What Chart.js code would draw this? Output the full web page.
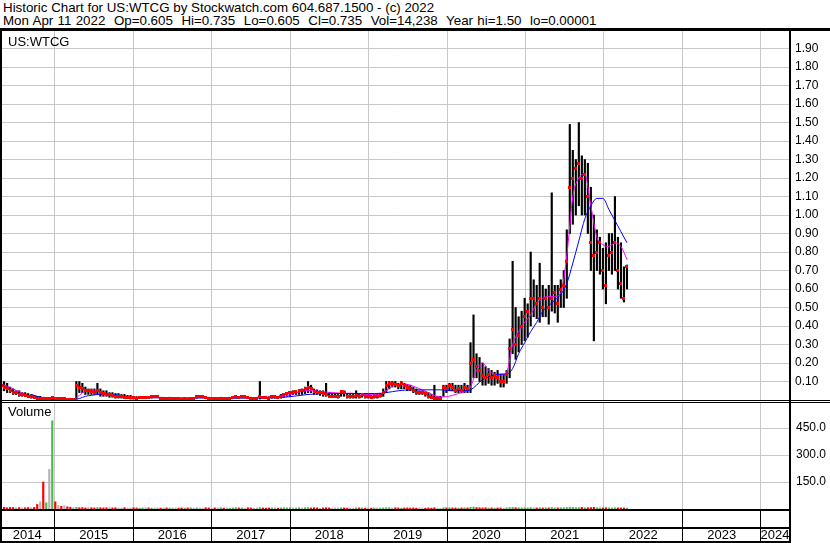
<!DOCTYPE html>
<html><head><meta charset="utf-8">
<script src="https://cdn.jsdelivr.net/npm/chart.js@4.4.1/dist/chart.umd.min.js"></script>
<style>
html,body{margin:0;padding:0;background:#fff;}
body{width:830px;height:543px;overflow:hidden;position:relative;font-family:"Liberation Sans",Arial,sans-serif;color:#000;}
.hdr{position:absolute;left:3px;font-size:13.33px;line-height:15px;white-space:pre;}
.lbl{position:absolute;font-size:13px;line-height:15px;white-space:pre;}
.ln{position:absolute;background:#000;}
canvas{position:absolute;left:0;}
</style></head><body>
<div class="hdr" style="top:0px">Historic Chart for US:WTCG by Stockwatch.com 604.687.1500 - (c) 2022</div>
<div class="hdr" style="top:13px;word-spacing:0.6px">Mon Apr 11 2022  Op=0.605  Hi=0.735  Lo=0.605  Cl=0.735  Vol=14,238  Year hi=1.50  lo=0.00001</div>
<canvas id="pc" width="830" height="369" style="top:31px"></canvas>
<canvas id="vc" width="830" height="140" style="top:403px"></canvas>
<div class="lbl" style="left:8px;top:34px">US:WTCG</div>
<div class="lbl" style="left:8px;top:404px">Volume</div>
<div class="ln" style="left:0;top:28px;width:830px;height:3px"></div>
<div class="ln" style="left:0;top:31px;width:2px;height:512px"></div>
<div class="ln" style="left:789px;top:31px;width:2px;height:512px"></div>
<div class="ln" style="left:0;top:400px;width:830px;height:1px"></div>
<div class="ln" style="left:0;top:402px;width:830px;height:1px"></div>
<div class="ln" style="left:0;top:509px;width:791px;height:2px"></div>
<div class="ln" style="left:0;top:527px;width:791px;height:2px"></div>
<div class="ln" style="left:0;top:541px;width:791px;height:2px"></div>
<script>
// ---- data ----
const barStart = 2014.32;          // first bar, decimal year
const barStepDays = 14;            // one bar every two weeks
const yearLines = [2015,2016,2017,2018,2019,2020,2021,2022,2023,2024];
const yearLabels = ['2014','2015','2016','2017','2018','2019','2020','2021','2022','2023','2024'];
const priceTicks = [0.1,0.2,0.3,0.4,0.5,0.6,0.7,0.8,0.9,1.0,1.1,1.2,1.3,1.4,1.5,1.6,1.7,1.8,1.9];
const volTicks = [150,300,450];

const highs = [
.10,.10,.09,.07,.06,.05,.05,.04,.04,.035,
.03,.025,.02,.02,.015,.012,.012,.015,.012,.01,
.01,.008,.008,.007,.007,.10,.10,.09,.07,.06,
.06,.06,.09,.06,.05,.05,.04,.04,.035,.035,
.03,.03,.025,.025,.02,.018,.02,.02,.02,.02,
.025,.025,.024,.015,.015,.012,.015,.012,.014,.01,
.01,.01,.01,.012,.012,.02,.022,.022,.02,.015,
.014,.012,.012,.015,.012,.012,.015,.015,.02,.02,
.022,.022,.02,.015,.014,.014,.10,.02,.02,.018,
.025,.025,.02,.03,.035,.04,.045,.05,.05,.055,
.06,.07,.10,.08,.06,.055,.05,.05,.09,.04,
.035,.035,.03,.05,.05,.03,.03,.03,.05,.03,
.035,.03,.03,.025,.03,.03,.035,.06,.10,.10,
.10,.10,.09,.10,.09,.085,.08,.07,.06,.05,
.05,.045,.04,.03,.08,.02,.02,.08,.08,.09,
.09,.08,.08,.08,.09,.08,.31,.46,.25,.23,
.20,.18,.17,.16,.15,.16,.14,.14,.16,.33,
.75,.50,.45,.48,.55,.52,.80,.65,.62,.74,
.62,.60,.62,1.12,.62,.62,.65,.70,.92,1.49,
1.35,1.30,1.50,1.32,1.30,1.28,1.15,1.00,.92,.88,
.82,.85,.90,.90,1.10,.88,.85,.72,.73];

const lows = [
.05,.05,.04,.04,.03,.03,.02,.02,.02,.015,
.01,.01,.005,.005,.005,.004,.004,.005,.003,.003,
.002,.002,.002,.001,.001,.005,.04,.04,.03,.03,
.03,.03,.03,.02,.02,.02,.015,.015,.01,.01,
.01,.01,.01,.005,.005,.005,.008,.008,.01,.008,
.01,.012,.012,.005,.005,.004,.005,.004,.006,.003,
.002,.002,.002,.004,.004,.01,.012,.012,.01,.005,
.005,.004,.004,.005,.004,.004,.005,.008,.01,.01,
.012,.012,.01,.006,.006,.006,.005,.008,.008,.006,
.01,.01,.008,.01,.015,.02,.02,.03,.03,.03,
.03,.035,.04,.04,.03,.03,.025,.02,.02,.015,
.015,.015,.01,.02,.02,.01,.01,.01,.01,.01,
.015,.01,.01,.01,.01,.01,.015,.02,.04,.06,
.07,.07,.06,.06,.06,.05,.05,.04,.03,.03,
.03,.02,.01,.01,.005,.005,.005,.02,.04,.05,
.05,.04,.04,.04,.04,.04,.04,.12,.12,.10,
.08,.08,.09,.08,.08,.09,.07,.07,.09,.12,
.25,.22,.26,.30,.32,.34,.40,.45,.44,.42,
.45,.45,.41,.48,.47,.42,.50,.50,.55,.90,
.95,1.00,1.05,1.00,1.00,.90,.70,.32,.70,.68,
.60,.52,.70,.68,.70,.60,.55,.53,.60];

const closes = [
.08,.07,.06,.05,.04,.04,.03,.03,.025,.02,
.02,.015,.01,.01,.008,.009,.009,.012,.008,.008,
.006,.006,.005,.004,.004,.08,.07,.06,.05,.05,
.045,.04,.05,.04,.035,.03,.03,.025,.02,.02,
.02,.015,.015,.015,.012,.01,.012,.015,.015,.012,
.02,.02,.02,.01,.01,.008,.01,.01,.01,.006,
.005,.006,.005,.008,.008,.018,.018,.018,.016,.01,
.01,.008,.008,.01,.008,.008,.01,.012,.018,.015,
.018,.018,.016,.01,.01,.01,.02,.015,.012,.01,
.02,.02,.015,.02,.03,.035,.04,.04,.045,.05,
.05,.06,.07,.06,.045,.04,.04,.035,.03,.02,
.02,.02,.02,.045,.04,.02,.02,.02,.025,.02,
.03,.02,.02,.015,.02,.02,.025,.04,.08,.09,
.09,.085,.08,.09,.08,.07,.06,.05,.04,.04,
.04,.035,.02,.015,.01,.01,.01,.07,.06,.08,
.07,.05,.06,.05,.07,.06,.20,.22,.18,.16,
.13,.12,.14,.12,.13,.12,.10,.10,.14,.28,
.38,.30,.35,.40,.45,.48,.55,.55,.52,.55,
.50,.55,.50,.55,.58,.52,.60,.62,.75,1.15,
1.20,1.25,1.28,1.20,1.22,1.10,.85,.78,.80,.85,
.70,.62,.78,.80,.85,.70,.63,.55,.72];

const volumes = [
8,10,7,9,8,7,8,6,7,8,
7,9,25,40,150,35,220,490,40,20,
15,18,12,10,8,9,7,8,6,8,
7,6,8,7,6,7,8,6,7,6,
6,7,5,6,7,6,5,6,7,6,
5,6,7,5,6,6,5,7,6,5,
6,5,6,7,5,6,6,5,7,6,
5,6,6,7,5,6,5,6,7,6,
6,5,7,6,5,6,8,6,5,6,
6,7,5,6,7,6,7,6,5,7,
6,7,8,6,7,6,5,6,7,6,
5,6,6,7,6,5,6,5,6,6,
6,5,6,5,6,6,5,6,7,7,
6,7,6,5,6,6,5,6,5,6,
6,5,6,5,7,5,5,7,6,7,
6,6,5,6,7,6,10,11,8,7,
6,7,6,6,5,6,6,5,6,8,
9,7,7,6,7,6,8,7,6,7,
6,7,6,8,6,6,7,7,8,10,
9,8,8,9,7,7,8,9,7,6,
6,7,6,6,7,6,6,6,5];

// moving averages, one value every four weeks
const maShort = [
.085,.075,.06,.045,.03,.015,.01,.006,.004,.003,
.003,.003,.004,.025,.05,.055,.05,.035,.025,.022,
.02,.016,.013,.012,.013,.014,.013,.012,.011,.010,
.011,.012,.013,.013,.012,.012,.011,.012,.013,.013,
.014,.015,.013,.015,.016,.015,.016,.02,.028,.038,
.047,.052,.05,.046,.043,.04,.038,.036,.037,.035,
.032,.03,.028,.03,.05,.075,.085,.086,.08,.068,
.055,.04,.025,.016,.018,.025,.035,.045,.07,.16,
.20,.16,.14,.135,.15,.30,.37,.42,.46,.52,
.55,.56,.56,.58,.78,1.10,1.20,1.22,1.05,.88,
.84,.83,.85,.83,.76];
const maLong = [
null,null,null,null,null,.03,.02,.01,.004,.003,
.003,.003,.003,.008,.02,.025,.03,.031,.031,.028,
.024,.018,.015,.014,.013,.012,.012,.011,.011,.011,
.010,.010,.010,.011,.011,.011,.011,.010,.010,.010,
.010,.010,.010,.011,.011,.011,.012,.015,.018,.022,
.026,.03,.032,.034,.035,.035,.035,.035,.035,.035,
.035,.035,.035,.036,.04,.045,.05,.053,.055,.055,
.055,.055,.055,.055,.052,.05,.05,.05,.055,.08,
.11,.125,.135,.14,.14,.17,.25,.31,.37,.42,
.48,.51,.54,.57,.63,.74,.86,.98,1.05,1.09,
1.09,1.03,.97,.91,.85];

// ---- build ----
const X_MIN = 2014.3057, X_MAX = 2024.3567;
const FONT = '"Liberation Sans", Arial, sans-serif';
const GRID = '#c8c8c8';
const barYears = highs.map((_, i) => barStart + i * barStepDays / 365.25);
const maYears = maShort.map((_, k) => barStart + k * 2 * barStepDays / 365.25);

const mark = document.createElement('canvas');
mark.width = 3; mark.height = 3;
const mctx = mark.getContext('2d'); mctx.fillStyle = '#ff0000'; mctx.fillRect(0, 0, 3, 3);

const noPad = s => { s.paddingTop = 0; s.paddingBottom = 0; s.paddingLeft = 0; s.paddingRight = 0; };

new Chart(document.getElementById('pc'), {
  type: 'bar',
  data: {
    datasets: [
      { type: 'line', data: barYears.map((x, i) => ({x, y: closes[i]})), showLine: false,
        pointStyle: mark, pointRadius: 2, order: 1 },
      { type: 'line', data: maYears.map((x, k) => ({x, y: maLong[k]})), borderColor: '#0000ff', borderWidth: 1,
        pointRadius: 0, cubicInterpolationMode: 'monotone', spanGaps: false, order: 2 },
      { type: 'line', data: maYears.map((x, k) => ({x, y: maShort[k]})), borderColor: '#ff00ff', borderWidth: 1,
        pointRadius: 0, cubicInterpolationMode: 'monotone', order: 3 },
      { type: 'bar', data: barYears.map((x, i) => ({x, y: [lows[i], highs[i]]})), backgroundColor: '#000000',
        borderWidth: 0, barThickness: 1.5, grouped: false, order: 4 }
    ]
  },
  options: {
    responsive: false, animation: false, events: [],
    layout: { padding: 0, autoPadding: false },
    plugins: { legend: { display: false }, tooltip: { enabled: false } },
    scales: {
      x: { type: 'linear', min: X_MIN, max: X_MAX, offset: false,
        afterBuildTicks: s => { s.ticks = yearLines.map(v => ({value: v})); },
        ticks: { display: false }, border: { display: false },
        grid: { color: GRID, drawTicks: false, offset: false },
        afterFit: s => { s.height = 0; noPad(s); } },
      y: { position: 'right', min: 0, max: 1.995,
        afterBuildTicks: s => { s.ticks = priceTicks.map(v => ({value: v})); },
        ticks: { color: '#000', padding: 6, font: { family: FONT, size: 12 }, callback: v => Number(v).toFixed(2) },
        border: { display: false }, grid: { color: GRID, drawTicks: false },
        afterFit: s => { s.width = 41; noPad(s); } }
    }
  }
});

const volColors = volumes.map((v, i) => i === 0 || closes[i] === closes[i-1] ? '#b4b4b4' : (closes[i] > closes[i-1] ? '#50b450' : '#ff0000'));
const labelPos = yearLabels.map(y => { const a = Math.max(+y, X_MIN), b = Math.min(+y + 1, X_MAX); return (a + b) / 2; });

new Chart(document.getElementById('vc'), {
  type: 'bar',
  data: {
    datasets: [
      { data: barYears.map((x, i) => ({x, y: volumes[i]})), backgroundColor: volColors, borderWidth: 0,
        barThickness: 1.5, grouped: false, xAxisID: 'x', yAxisID: 'y' }
    ]
  },
  options: {
    responsive: false, animation: false, events: [],
    layout: { padding: 0, autoPadding: false },
    plugins: { legend: { display: false }, tooltip: { enabled: false } },
    scales: {
      x: { type: 'linear', position: 'bottom', min: X_MIN, max: X_MAX, offset: false, weight: -1,
        afterBuildTicks: s => { s.ticks = yearLines.map(v => ({value: v})); },
        ticks: { display: false }, border: { display: false },
        grid: { color: GRID, tickColor: '#000', drawTicks: true, tickLength: 34, offset: false },
        afterFit: s => { s.height = 0; noPad(s); } },
      xl: { type: 'linear', position: 'bottom', min: X_MIN, max: X_MAX, offset: false, weight: 1,
        afterBuildTicks: s => { s.ticks = labelPos.map(v => ({value: v})); },
        ticks: { autoSkip: false, maxRotation: 0, padding: 19, color: '#000', font: { family: FONT, size: 13 },
          callback: (v, i) => yearLabels[i] },
        border: { display: false }, grid: { display: false, drawTicks: false },
        afterFit: s => { s.height = 34; noPad(s); } },
      y: { position: 'right', min: 0, max: 589,
        afterBuildTicks: s => { s.ticks = volTicks.map(v => ({value: v})); },
        ticks: { color: '#000', padding: 7, font: { family: FONT, size: 12 }, callback: v => Number(v).toFixed(1) },
        border: { display: false }, grid: { color: GRID, drawTicks: false },
        afterFit: s => { s.width = 41; noPad(s); } }
    }
  }
});
</script>
</body></html>
